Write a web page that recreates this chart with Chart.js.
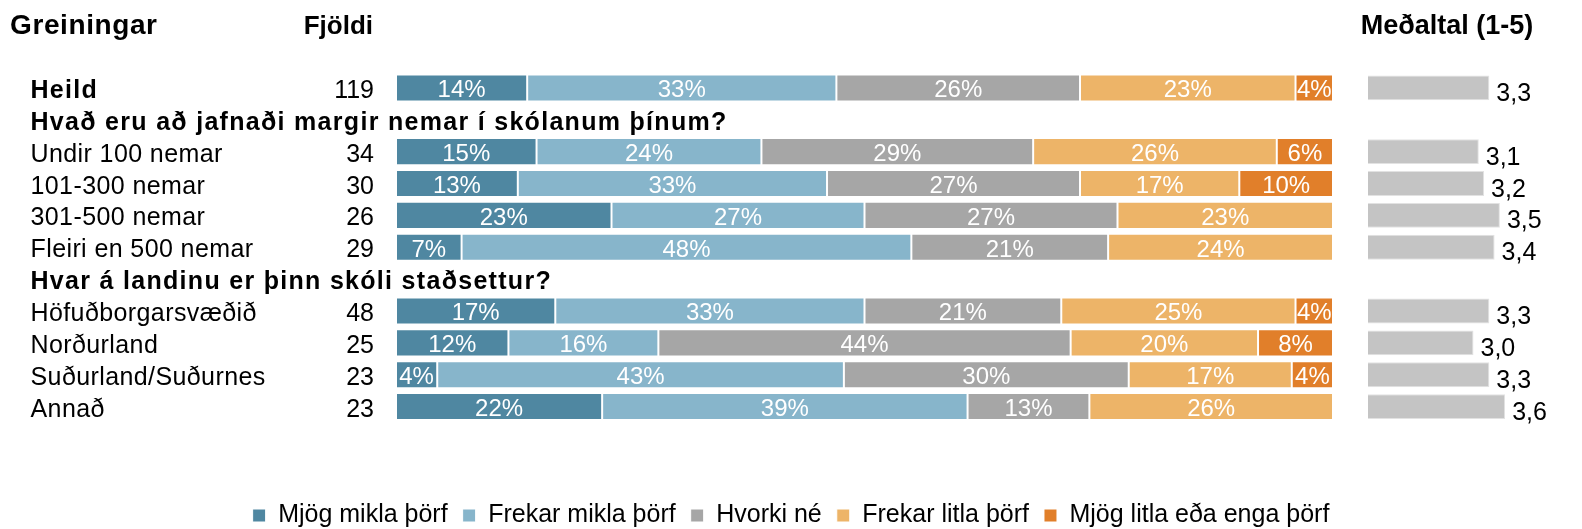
<!DOCTYPE html>
<html>
<head>
<meta charset="utf-8">
<script src="https://cdn.jsdelivr.net/npm/chart.js@4.4.0/dist/chart.umd.min.js"></script>
<style>
  body { margin: 0; background: #fff; }
  #wrap { position: relative; width: 1582px; height: 529px; }
  #mainChart { position: absolute; left: 0; top: 0; }
  #meanChart { position: absolute; left: 1368px; top: 0; }
</style>
</head>
<body>
<div id="wrap">
  <canvas id="mainChart" width="1582" height="529"></canvas>
  <canvas id="meanChart" width="214" height="529"></canvas>
</div>
<script>
// Rows (group headings have no values)
var categories = [
  'Heild',
  'Hvað eru að jafnaði margir nemar í skólanum þínum?',
  'Undir 100 nemar',
  '101-300 nemar',
  '301-500 nemar',
  'Fleiri en 500 nemar',
  'Hvar á landinu er þinn skóli staðsettur?',
  'Höfuðborgarsvæðið',
  'Norðurland',
  'Suðurland/Suðurnes',
  'Annað'
];
var headingRows = [0, 1, 6];

var counts      = [119, null, 34, 30, 26, 29, null, 48, 25, 23, 23];

// Answer shares in %
var mjogMikla   = [14, null, 15, 13, 23,  7, null, 17, 12,  4.4, 22];
var frekarMikla = [33, null, 24, 33, 27, 48, null, 33, 16, 43.4, 39];
var hvorki      = [26, null, 29, 27, 27, 21, null, 21, 44, 30.4, 13];
var frekarLitla = [23, null, 26, 17, 23, 24, null, 25, 20, 17.4, 26];
var mjogLitla   = [ 4, null,  6, 10,  0,  0, null,  4,  8,  4.4,  0];

var medaltal    = [3.3, null, 3.1, 3.2, 3.5, 3.4, null, 3.3, 3.0, 3.3, 3.6];

var FONT = "'Liberation Sans', Arial, sans-serif";
Chart.defaults.font.family = FONT;
Chart.defaults.color = '#000';

function series(label, data, color) {
  return {
    label: label,
    data: data,
    backgroundColor: color,
    borderColor: '#ffffff',
    borderWidth: 1,
    borderSkipped: false,
    barPercentage: 0.85,
    categoryPercentage: 1
  };
}

// Row labels, counts and column titles on the left
var sideText = {
  id: 'sideText',
  afterDraw: function (chart) {
    var ctx = chart.ctx;
    var y = chart.scales.y;
    ctx.save();
    ctx.fillStyle = '#000';
    ctx.textBaseline = 'alphabetic';
    ctx.letterSpacing = '0.6px';
    ctx.font = 'bold 28px ' + FONT;
    ctx.textAlign = 'left';
    ctx.fillText('Greiningar', 10, 34);
    ctx.letterSpacing = '0px';
    ctx.font = 'bold 26px ' + FONT;
    ctx.textAlign = 'right';
    ctx.fillText('Fjöldi', 373, 34);
    ctx.textAlign = 'center';
    ctx.font = 'bold 27px ' + FONT;
    ctx.fillText('Meðaltal (1-5)', 1447, 34);

    categories.forEach(function (name, i) {
      var cy = y.getPixelForValue(i) + 10;
      var bold = headingRows.indexOf(i) >= 0;
      ctx.font = (bold ? 'bold ' : '') + '25px ' + FONT;
      ctx.letterSpacing = bold ? '1.3px' : '0.4px';
      ctx.textAlign = 'left';
      ctx.fillText(name, 30.5, cy);
      if (counts[i] != null) {
        ctx.font = '25px ' + FONT;
        ctx.letterSpacing = '0px';
        ctx.textAlign = 'right';
        ctx.fillText(String(counts[i]), 374, cy);
      }
    });
    ctx.restore();
  }
};

// Percent labels inside the stacked segments
var percentLabels = {
  id: 'percentLabels',
  afterDatasetsDraw: function (chart) {
    var ctx = chart.ctx;
    ctx.save();
    ctx.fillStyle = '#fff';
    ctx.font = '24px ' + FONT;
    ctx.textAlign = 'center';
    ctx.textBaseline = 'alphabetic';
    chart.data.datasets.forEach(function (ds, i) {
      chart.getDatasetMeta(i).data.forEach(function (bar, j) {
        var v = ds.data[j];
        if (!v) return;
        ctx.fillText(Math.round(v) + '%', (bar.x + bar.base) / 2, bar.y + 9.5);
      });
    });
    ctx.restore();
  }
};

new Chart(document.getElementById('mainChart'), {
  type: 'bar',
  data: {
    labels: categories,
    datasets: [
      series('Mjög mikla þörf', mjogMikla, '#4F87A1'),
      series('Frekar mikla þörf', frekarMikla, '#87B5CB'),
      series('Hvorki né', hvorki, '#A6A6A6'),
      series('Frekar litla þörf', frekarLitla, '#EDB468'),
      series('Mjög litla eða enga þörf', mjogLitla, '#E17F2A')
    ]
  },
  options: {
    indexAxis: 'y',
    responsive: false,
    animation: false,
    layout: { padding: { top: 72, bottom: -9, left: 0, right: 0 } },
    scales: {
      x: {
        stacked: true, min: 0, max: 100,
        ticks: { display: false }, grid: { display: false }, border: { display: false },
        afterFit: function (s) { s.height = 65.5; }
      },
      y: {
        stacked: true,
        ticks: { display: false }, grid: { display: false }, border: { display: false },
        afterFit: function (s) { s.width = 396; }
      },
      yRight: {
        type: 'category', position: 'right', labels: categories,
        ticks: { display: false }, grid: { display: false }, border: { display: false },
        afterFit: function (s) { s.width = 249; }
      }
    },
    plugins: {
      legend: {
        position: 'bottom',
        labels: { boxWidth: 13, boxHeight: 13, padding: 15, color: '#000', font: { size: 25 } }
      },
      tooltip: { enabled: false }
    }
  },
  plugins: [sideText, percentLabels]
});

// Mean values (scale 1-5) next to the bars
var meanLabels = {
  id: 'meanLabels',
  afterDatasetsDraw: function (chart) {
    var ctx = chart.ctx;
    ctx.save();
    ctx.fillStyle = '#000';
    ctx.font = '25px ' + FONT;
    ctx.textAlign = 'left';
    ctx.textBaseline = 'alphabetic';
    chart.getDatasetMeta(0).data.forEach(function (bar, j) {
      var v = medaltal[j];
      if (v == null) return;
      ctx.fillText(v.toFixed(1).replace('.', ','), bar.x + 7, bar.y + 13);
    });
    ctx.restore();
  }
};

new Chart(document.getElementById('meanChart'), {
  type: 'bar',
  data: {
    labels: categories,
    datasets: [{
      label: 'Meðaltal',
      data: medaltal,
      backgroundColor: '#C4C4C4',
      borderColor: '#E2E2E2',
      borderWidth: 1,
      borderSkipped: false,
      barPercentage: 0.78,
      categoryPercentage: 1
    }]
  },
  options: {
    indexAxis: 'y',
    responsive: false,
    animation: false,
    layout: { padding: { top: 72, bottom: 106.5, left: 0, right: 3 } },
    scales: {
      x: { display: false, min: 1, max: 5 },
      y: { display: false }
    },
    plugins: { legend: { display: false }, tooltip: { enabled: false } }
  },
  plugins: [meanLabels]
});
</script>
</body>
</html>
